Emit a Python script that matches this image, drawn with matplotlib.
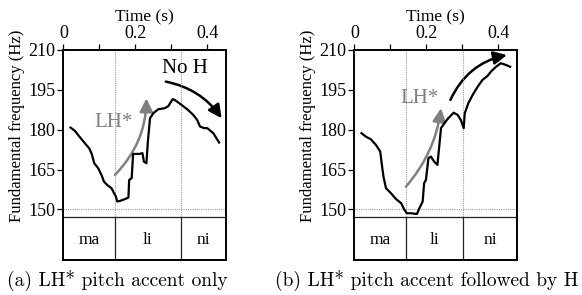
import numpy as np
import matplotlib
matplotlib.use("Agg")
from matplotlib import pyplot as plt
from matplotlib.patches import FancyArrowPatch

# pitch track, panel (a): LH* only
t_a = [0.020, 0.032, 0.046, 0.060, 0.072, 0.079, 0.086, 0.097, 0.106, 0.113, 0.122,
       0.134, 0.141, 0.146, 0.150, 0.157, 0.171, 0.181, 0.183, 0.190, 0.194, 0.211,
       0.220, 0.224, 0.231, 0.235, 0.241, 0.250, 0.264, 0.282, 0.292, 0.304, 0.310,
       0.329, 0.347, 0.361, 0.372, 0.380, 0.391, 0.400, 0.417, 0.433]
f_a = [180.8, 179.6, 177.2, 174.9, 173.0, 170.9, 167.4, 165.5, 163.0, 160.5, 159.2,
       158.0, 156.1, 154.9, 153.0, 153.2, 153.9, 154.5, 161.1, 161.8, 170.9, 170.9,
       171.2, 168.0, 167.4, 175.5, 184.3, 186.2, 187.7, 188.1, 188.9, 191.5, 191.2,
       189.3, 187.4, 185.6, 183.7, 181.2, 180.6, 180.6, 178.7, 175.2]

# pitch track, panel (b): LH* followed by H
t_b = [0.020, 0.032, 0.046, 0.060, 0.072, 0.076, 0.081, 0.088, 0.102, 0.116, 0.130,
       0.139, 0.146, 0.157, 0.174, 0.181, 0.190, 0.194, 0.199, 0.206, 0.213, 0.222,
       0.231, 0.236, 0.241, 0.250, 0.261, 0.276, 0.287, 0.296, 0.304, 0.307, 0.317,
       0.329, 0.343, 0.356, 0.370, 0.380, 0.394, 0.407, 0.421, 0.433]
f_b = [178.7, 177.4, 176.4, 174.3, 171.8, 167.4, 162.4, 158.0, 156.1, 153.9, 152.4,
       149.9, 148.6, 148.6, 148.3, 150.5, 153.0, 159.9, 161.1, 169.3, 169.9, 168.0,
       166.8, 173.7, 180.6, 182.4, 184.3, 186.4, 185.6, 183.7, 180.6, 186.2, 190.0,
       193.1, 196.2, 198.7, 200.2, 201.9, 203.7, 205.0, 204.4, 203.7]

syllables = ["ma", "li", "ni"]
bounds_a = [0.0, 0.1436, 0.326, 0.453]
bounds_b = [0.0, 0.1436, 0.303, 0.453]

# arrows: (start, end, curvature)
lh_a = ((0.1435, 163.0), (0.231, 191.8), 0.2)
noh_a = ((0.285, 198.1), (0.440, 184.3), -0.2)
lh_b = ((0.1435, 158.6), (0.241, 188.1), 0.15)
h_b = ((0.267, 191.2), (0.424, 208.1), -0.25)

captions = ["(a) LH* pitch accent only", "(b) LH* pitch accent followed by H"]
caption_x = [0.201, 0.733]

plt.rcParams["font.family"] = "Liberation Serif"
plt.rcParams["font.size"] = 13

fig = plt.figure(figsize=(5.82, 2.95), dpi=100)
ax_a = fig.add_axes([0.1088, 0.1186, 0.280, 0.712])
ax_b = fig.add_axes([0.6088, 0.1186, 0.280, 0.712])

tier_top = 147
ymin, ymax = 131, 210


def draw_panel(ax, t, f, bounds, arrows, labels):
    ax.set_xlim(0, 0.453)
    ax.set_ylim(ymin, ymax)
    ax.xaxis.tick_top()
    ax.xaxis.set_label_position("top")
    ax.set_xticks([0, 0.2, 0.4])
    ax.set_xticklabels(["0", "0.2", "0.4"])
    ax.set_xticks([0.1, 0.3], minor=True)
    ax.set_yticks([150, 165, 180, 195, 210])
    ax.tick_params(which="both", direction="out", length=4, width=0.9, pad=1.5)
    ax.set_xlabel("Time (s)", labelpad=3, fontsize=12.5)
    ax.set_ylabel("Fundamental frequency (Hz)", fontsize=12)
    ax.yaxis.set_label_coords(-0.235, 0.64)
    for s in ax.spines.values():
        s.set_linewidth(1.4)

    ax.axhline(150, color="#999999", lw=0.8, ls=(0, (1, 1)))
    ax.axhline(tier_top, color="#222222", lw=0.9)
    for b in bounds[1:-1]:
        ax.plot([b, b], [tier_top, ymax], color="#999999", lw=0.8, ls=(0, (1, 1)))
        ax.plot([b, b], [ymin, tier_top], color="#222222", lw=0.9)
    for i, name in enumerate(syllables):
        ax.text((bounds[i] + bounds[i + 1]) / 2, 138.6, name, ha="center", va="center",
                fontsize=12.5)

    ax.plot(t, f, color="black", lw=1.6)

    for (a, b, rad), col in arrows:
        ax.add_patch(FancyArrowPatch(a, b, connectionstyle=f"arc3,rad={rad}",
                                     arrowstyle="-|>", mutation_scale=20, lw=1.8,
                                     color=col, shrinkA=0, shrinkB=0))
    for txt, x, y, col in labels:
        ax.text(x, y, txt, color=col, ha="center", va="center", fontsize=15)


draw_panel(ax_a, t_a, f_a, bounds_a, [(lh_a, "#808080"), (noh_a, "black")],
           [("LH*", 0.139, 182.7, "#808080"), ("No H", 0.338, 203.1, "black")])
draw_panel(ax_b, t_b, f_b, bounds_b, [(lh_b, "#808080"), (h_b, "black")],
           [("LH*", 0.181, 191.8, "#808080")])

for x, cap in zip(caption_x, captions):
    fig.text(x, 0.05, cap, ha="center", va="center", family="cmr10", fontsize=14)

fig.savefig("out.png", dpi=100)
